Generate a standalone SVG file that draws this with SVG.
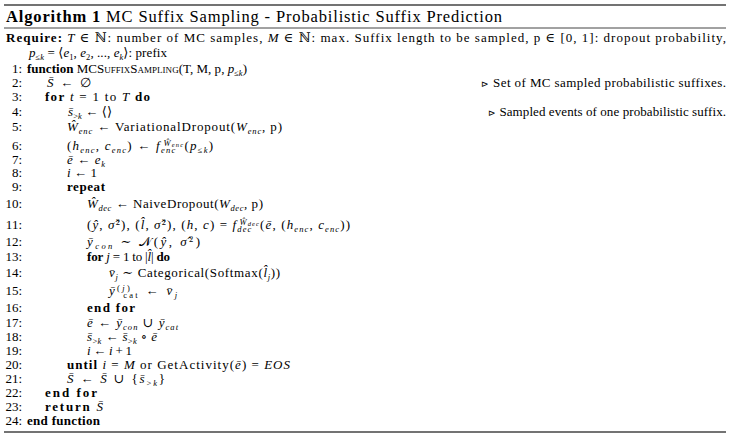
<svg xmlns="http://www.w3.org/2000/svg" width="748" height="442" viewBox="0 0 748 442">
<style>
.t{font-family:"Liberation Serif","DejaVu Serif",serif;font-size:13px;fill:#000}
.ti{font-family:"Liberation Serif","DejaVu Serif",serif;font-size:16.5px;fill:#000}
.n{text-anchor:end}
.b{font-weight:bold}
.i{font-style:italic}
.s{font-size:8.5px;baseline-shift:-2.5px}
.u{font-size:8.5px;baseline-shift:4.5px}
.ss{font-size:6.5px;baseline-shift:-1.5px}
.sc{font-variant:small-caps}
.c{text-anchor:end}
.rule{stroke:#444;fill:none}
</style>
<rect width="748" height="442" fill="#fff"/>
<g id="rules">
<line class="rule" x1="4" y1="5" x2="726" y2="5" stroke-width="1.6"/>
<line class="rule" x1="4" y1="28" x2="726" y2="28" stroke-width="1"/>
<line class="rule" x1="4" y1="432" x2="726" y2="432" stroke-width="1.6"/>
</g>
<g id="title">
<text class="ti" x="6" y="22" textLength="496" lengthAdjust="spacing"><tspan class="b">Algorithm 1</tspan> MC Suffix Sampling - Probabilistic Suffix Prediction</text>
</g>
<g id="require">
<text class="t" x="6" y="42" textLength="720" lengthAdjust="spacing"><tspan class="b">Require:</tspan> <tspan class="i">T</tspan> ∈ ℕ:  number of MC samples, <tspan class="i">M</tspan> ∈ ℕ:  max.  Suffix length to be sampled, p ∈ [0, 1]:  dropout probability,</text>
<text class="t" x="29" y="57" textLength="138" lengthAdjust="spacing"><tspan class="i">p</tspan><tspan class="s">≤<tspan class="i">k</tspan></tspan> = ⟨<tspan class="i">e</tspan><tspan class="s">1</tspan>, <tspan class="i">e</tspan><tspan class="s">2</tspan>, ..., <tspan class="i">e<tspan class="s">k</tspan></tspan>⟩: prefix</text>
</g>
<g id="numbers" class="t n">
<text x="22" y="73">1:</text>
<text x="22" y="87">2:</text>
<text x="22" y="101">3:</text>
<text x="22" y="116">4:</text>
<text x="22" y="131">5:</text>
<text x="22" y="150">6:</text>
<text x="22" y="164">7:</text>
<text x="22" y="177">8:</text>
<text x="22" y="191">9:</text>
<text x="22" y="208">10:</text>
<text x="22" y="229">11:</text>
<text x="22" y="246">12:</text>
<text x="22" y="261">13:</text>
<text x="22" y="277">14:</text>
<text x="22" y="295">15:</text>
<text x="22" y="312">16:</text>
<text x="22" y="327">17:</text>
<text x="22" y="341">18:</text>
<text x="22" y="355">19:</text>
<text x="22" y="369">20:</text>
<text x="22" y="383">21:</text>
<text x="22" y="397">22:</text>
<text x="22" y="411">23:</text>
<text x="22" y="425">24:</text>
</g>
<g id="code" class="t">
<text x="27" y="73" textLength="220" lengthAdjust="spacing"><tspan class="b">function</tspan> <tspan class="sc">MCSuffixSampling</tspan>(T, M, p, <tspan class="i">p</tspan><tspan class="s">≤<tspan class="i">k</tspan></tspan>)</text>
<text x="47" y="87" textLength="44" lengthAdjust="spacing"><tspan class="i">S̄</tspan> ← ∅</text>
<text x="45" y="101" textLength="105" lengthAdjust="spacing"><tspan class="b">for</tspan> <tspan class="i">t</tspan> = 1 to <tspan class="i">T</tspan> <tspan class="b">do</tspan></text>
<text x="68" y="116" textLength="44" lengthAdjust="spacing"><tspan class="i">s̄</tspan><tspan class="s">&gt;<tspan class="i">k</tspan></tspan> ← ⟨⟩</text>
<text x="67" y="131" textLength="215" lengthAdjust="spacing"><tspan class="i">Ŵ</tspan><tspan class="s i">enc</tspan> ← VariationalDropout(<tspan class="i">W</tspan><tspan class="s i">enc</tspan>, p)</text>
<text x="67" y="150" textLength="146" lengthAdjust="spacing">(<tspan class="i">h</tspan><tspan class="s i">enc</tspan>, <tspan class="i">c</tspan><tspan class="s i">enc</tspan>) ← <tspan class="i">f</tspan><tspan class="s i">enc</tspan><tspan class="u i" dx="-13">Ŵ<tspan class="ss">enc</tspan></tspan>(<tspan class="i">p</tspan><tspan class="s">≤<tspan class="i">k</tspan></tspan>)</text>
<text x="67" y="164" textLength="38" lengthAdjust="spacing"><tspan class="i">ē</tspan> ← <tspan class="i">e</tspan><tspan class="s i">k</tspan></text>
<text x="67" y="177" textLength="30" lengthAdjust="spacing"><tspan class="i">i</tspan> ← 1</text>
<text x="67" y="191" textLength="38" lengthAdjust="spacing"><tspan class="b">repeat</tspan></text>
<text x="87" y="208" textLength="176" lengthAdjust="spacing"><tspan class="i">Ŵ</tspan><tspan class="s i">dec</tspan> ← NaiveDropout(<tspan class="i">W</tspan><tspan class="s i">dec</tspan>, p)</text>
<text x="87" y="229" textLength="263" lengthAdjust="spacing">(<tspan class="i">ŷ</tspan>,  <tspan class="i">σ̂</tspan><tspan class="u">2</tspan>), (<tspan class="i">l̂</tspan>,  <tspan class="i">σ̂</tspan><tspan class="u">2</tspan>), (<tspan class="i">h</tspan>, <tspan class="i">c</tspan>) = <tspan class="i">f</tspan><tspan class="s i">dec</tspan><tspan class="u i" dx="-13">Ŵ<tspan class="ss">dec</tspan></tspan>(<tspan class="i">ē</tspan>, (<tspan class="i">h</tspan><tspan class="s i">enc</tspan>, <tspan class="i">c</tspan><tspan class="s i">enc</tspan>))</text>
<text x="87" y="246" textLength="113" lengthAdjust="spacing"><tspan class="i">ȳ</tspan><tspan class="s i">con</tspan> ∼ 𝒩(<tspan class="i">ŷ</tspan>, <tspan class="i">σ̂</tspan><tspan class="u">2</tspan>)</text>
<text x="87" y="261" textLength="83" lengthAdjust="spacing"><tspan class="b">for</tspan> <tspan class="i">j</tspan> = 1 to |<tspan class="i">l̂</tspan>| <tspan class="b">do</tspan></text>
<text x="109" y="277" textLength="171" lengthAdjust="spacing"><tspan class="i">v̄</tspan><tspan class="s i">j</tspan> ∼ Categorical(Softmax(<tspan class="i">l̂</tspan><tspan class="s i">j</tspan>))</text>
<text x="109" y="295" textLength="68" lengthAdjust="spacing"><tspan class="i">ȳ</tspan><tspan class="u">(<tspan class="i">j</tspan>)</tspan><tspan class="s" dx="-9">cat</tspan> ← <tspan class="i">v̄</tspan><tspan class="s i">j</tspan></text>
<text x="87" y="312" textLength="48" lengthAdjust="spacing"><tspan class="b">end for</tspan></text>
<text x="87" y="327" textLength="91" lengthAdjust="spacing"><tspan class="i">ē</tspan> ← <tspan class="i">ȳ</tspan><tspan class="s i">con</tspan> ∪ <tspan class="i">ȳ</tspan><tspan class="s i">cat</tspan></text>
<text x="87" y="341" textLength="70" lengthAdjust="spacing"><tspan class="i">s̄</tspan><tspan class="s">&gt;<tspan class="i">k</tspan></tspan> ← <tspan class="i">s̄</tspan><tspan class="s">&gt;<tspan class="i">k</tspan></tspan> ∘ <tspan class="i">ē</tspan></text>
<text x="87" y="355" textLength="45" lengthAdjust="spacing"><tspan class="i">i</tspan> ← <tspan class="i">i</tspan> + 1</text>
<text x="67" y="369" textLength="223" lengthAdjust="spacing"><tspan class="b">until</tspan> <tspan class="i">i</tspan> = <tspan class="i">M</tspan> or GetActivity(<tspan class="i">ē</tspan>) = <tspan class="i">EOS</tspan></text>
<text x="67" y="383" textLength="98" lengthAdjust="spacing"><tspan class="i">S̄</tspan> ← <tspan class="i">S̄</tspan> ∪ {<tspan class="i">s̄</tspan><tspan class="s">&gt;<tspan class="i">k</tspan></tspan>}</text>
<text x="45" y="397" textLength="52" lengthAdjust="spacing"><tspan class="b">end for</tspan></text>
<text x="45" y="411" textLength="58" lengthAdjust="spacing"><tspan class="b">return</tspan> <tspan class="i">S̄</tspan></text>
<text x="27" y="425" textLength="73" lengthAdjust="spacing"><tspan class="b">end function</tspan></text>
</g>
<g id="comments" class="t">
<text class="c" x="726" y="87" textLength="245" lengthAdjust="spacing"><tspan font-size="9">⊳</tspan> Set of MC sampled probabilistic suffixes.</text>
<text class="c" x="726" y="116" textLength="238" lengthAdjust="spacing"><tspan font-size="9">⊳</tspan> Sampled events of one probabilistic suffix.</text>
</g>
</svg>
